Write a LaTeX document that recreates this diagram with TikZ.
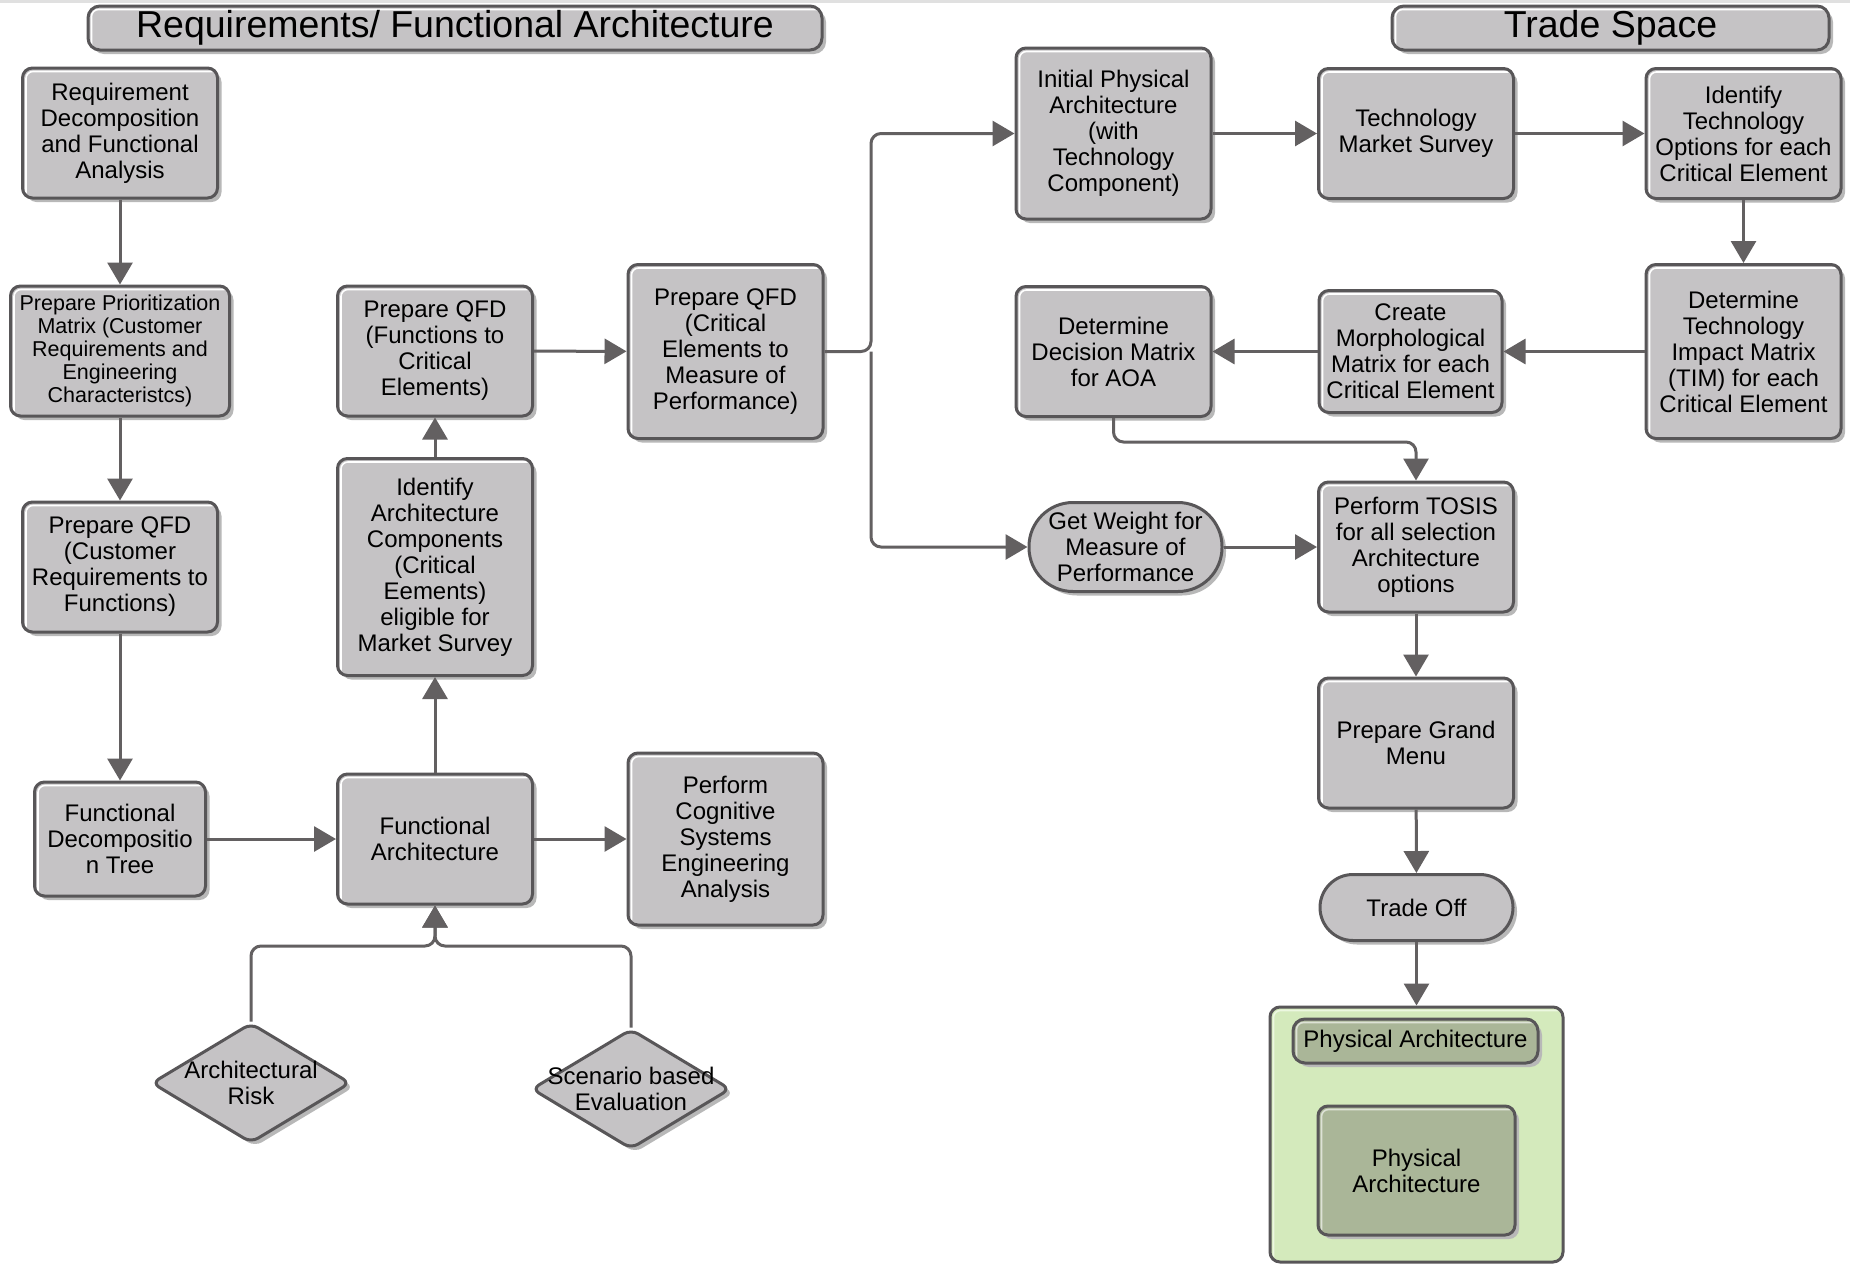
\documentclass[tikz,border=0pt]{standalone}
\usepackage{fontspec}
\setmainfont{Liberation Sans}
\usetikzlibrary{arrows.meta,shapes.geometric,shadows}

\definecolor{boxfill}{RGB}{197,195,197}
\definecolor{edgec}{RGB}{88,86,88}
\definecolor{linec}{RGB}{99,96,97}
\definecolor{shade}{RGB}{184,184,184}
\definecolor{paleg}{RGB}{212,234,188}
\definecolor{sage}{RGB}{170,182,152}
\definecolor{rimg}{RGB}{236,247,224}

\begin{document}
\begin{tikzpicture}[x=1pt,y=-1pt,
  every node/.style={inner sep=2pt, align=center},
  bevel/.style={path picture={
    \draw[#1, line width=1.6pt, rounded corners=7pt]
      ([shift={(3.5pt,5pt)}]path picture bounding box.south west) --
      ([shift={(3.5pt,-3.5pt)}]path picture bounding box.north west) --
      ([shift={(-5pt,-3.5pt)}]path picture bounding box.north east);}},
  bevel/.default=white,
  basebox/.style={draw=edgec, line width=3pt, fill=boxfill, rounded corners=10pt,
    font=\fontsize{24}{26}\selectfont,
    drop shadow={shadow xshift=4pt, shadow yshift=-4pt, fill=shade, opacity=1}},
  stepbox/.style={basebox, bevel, minimum width=195pt, minimum height=130pt},
  tallbox/.style={stepbox, minimum height=174pt},
  titlebar/.style={basebox, bevel, rounded corners=12pt, minimum height=44pt,
    font=\fontsize{37.5}{40}\selectfont},
  stadium/.style={basebox, minimum width=193pt},
  decision/.style={diamond, draw=edgec, line width=3pt, fill=boxfill, rounded corners=8pt,
    minimum width=199pt, minimum height=120pt, inner sep=0pt,
    drop shadow={shadow xshift=4pt, shadow yshift=-4pt, fill=shade, opacity=1}},
  dtext/.style={font=\fontsize{24}{26}\selectfont},
  arr/.style={draw=linec, line width=3pt, rounded corners=10pt,
    -{Triangle[width=25pt,length=22pt]}},
]
\useasboundingbox (0,0) rectangle (1850,1264);
\fill[white] (0,0) rectangle (1850,1264);
\fill[black!12] (0,0) rectangle (1850,2.5);

% ---------- section headers ----------
\node[titlebar, minimum width=734pt] (hdrA) at (455,28) {Requirements/ Functional Architecture};
\node[titlebar, minimum width=437pt] (hdrB) at (1610.5,28) {Trade Space};

% ---------- requirements / functional architecture ----------
\node[stepbox] (req) at (120,133) {Requirement\\Decomposition\\and Functional\\Analysis};
\node[stepbox, minimum width=219pt, font=\fontsize{21.5}{23}\selectfont] (prio) at (120,351)
  {Prepare Prioritization\\Matrix (Customer\\Requirements and\\Engineering\\Characteristcs)};
\node[stepbox] (qfdc) at (120,567) {Prepare QFD\\(Customer\\Requirements to\\Functions)};
\node[stepbox, minimum width=171pt, minimum height=114pt] (fdt) at (120,839)
  {Functional\\Decompositio\\n Tree};

\node[stepbox] (qfdf) at (435,351) {Prepare QFD\\(Functions to\\Critical\\Elements)};
\node[stepbox, minimum height=217pt] (iac) at (435,567)
  {Identify\\Architecture\\Components\\(Critical\\Eements)\\eligible for\\Market Survey};
\node[stepbox] (fa) at (435,839) {Functional\\Architecture};

\node[decision] (risk) at (251,1083) {};
\node[dtext] (riskT) at (risk) {Architectural\\Risk};
\node[decision] (scen) at (631,1089) {};
\node[dtext] (scenT) at (scen) {Scenario based\\Evaluation};

\node[tallbox] (qfdce) at (725.5,351.5)
  {Prepare QFD\\(Critical\\Elements to\\Measure of\\Performance)};
\node[tallbox, minimum height=172pt] (pcse) at (725.5,839)
  {Perform\\Cognitive\\Systems\\Engineering\\Analysis};

% ---------- trade space ----------
\node[tallbox, minimum height=171pt] (ipa) at (1113.5,133.5)
  {Initial Physical\\Architecture\\(with\\Technology\\Component)};
\node[stepbox] (tms) at (1416,133.5) {Technology\\Market Survey};
\node[stepbox] (itoe) at (1743.5,133.5)
  {Identify\\Technology\\Options for each\\Critical Element};
\node[tallbox] (tim) at (1743.5,351.5)
  {Determine\\Technology\\Impact Matrix\\(TIM) for each\\Critical Element};
\node[stepbox, minimum width=183pt, minimum height=122pt] (cmm) at (1410.5,351.5)
  {Create\\Morphological\\Matrix for each\\Critical Element};
\node[stepbox] (ddm) at (1113.5,351.5) {Determine\\Decision Matrix\\for AOA};
\node[stadium, minimum height=89pt, rounded corners=44pt] (gw) at (1125.5,547)
  {Get Weight for\\Measure of\\Performance};
\node[stepbox] (tosis) at (1416,547)
  {Perform TOSIS\\for all selection\\Architecture\\options};
\node[stepbox] (pgm) at (1416,743) {Prepare Grand\\Menu};
\node[stadium, minimum height=66pt, rounded corners=33pt] (tradeoff) at (1416.5,907.5) {Trade Off};

% physical architecture container
\node[draw=edgec, line width=3pt, fill=paleg, rounded corners=10pt, bevel=rimg,
  minimum width=293pt, minimum height=255pt] (pa) at (1416.5,1134.5) {};
\node[basebox, bevel=white!60!sage, fill=sage, rounded corners=12pt,
  minimum width=245pt, minimum height=44pt] (pahdr) at (1415.5,1041) {Physical Architecture};
\node[basebox, bevel=white!60!sage, fill=sage, minimum width=197pt, minimum height=129pt]
  (pabox) at (1416.5,1170.5) {Physical\\Architecture};

% ---------- connectors ----------
\coordinate (split) at (871,351.5);
\coordinate (merge) at (435,946);

\draw[arr] (req) -- (prio);
\draw[arr] (prio) -- (qfdc);
\draw[arr] (qfdc) -- (fdt);
\draw[arr] (fdt) -- (fa);
\draw[arr] (fa) -- (pcse);
\draw[arr] (fa) -- (iac);
\draw[arr] (iac) -- (qfdf);
\draw[arr] (qfdf) -- (qfdce);
\draw[arr] (risk.north) |- (merge) -- (fa.south);
\draw[arr] (scen.north) |- (merge) -- (fa.south);

\draw[arr] (qfdce.east) -- (split) |- (ipa.west);
\draw[arr] (split) |- (gw.west);
\draw[arr] (ipa) -- (tms);
\draw[arr] (tms) -- (itoe);
\draw[arr] (itoe) -- (tim);
\draw[arr] (tim) -- (cmm);
\draw[arr] (cmm) -- (ddm);
\draw[arr] (ddm.south) -- ++(0,24) -| (tosis.north);
\draw[arr] (gw) -- (tosis);
\draw[arr] (tosis) -- (pgm);
\draw[arr] (pgm) -- (tradeoff);
\draw[arr] (tradeoff) -- (pa.north);
\end{tikzpicture}
\end{document}
